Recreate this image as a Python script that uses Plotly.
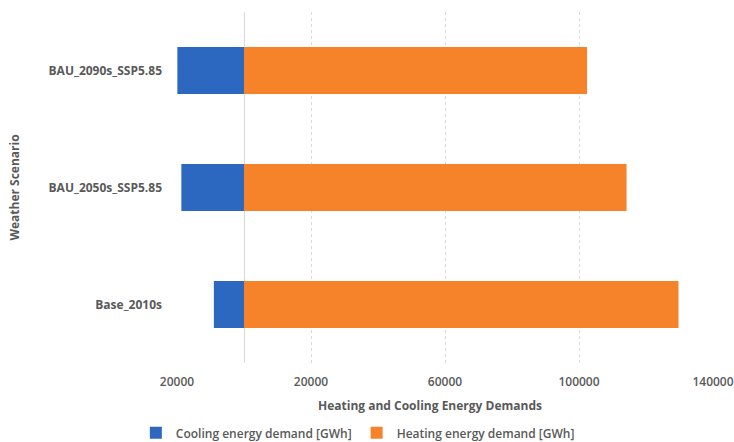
import plotly.graph_objects as go

# data
scenarios = ["Base_2010s", "BAU_2050s_SSP5.85", "BAU_2090s_SSP5.85"]
cooling_gwh = [9000, 18700, 19900]
heating_gwh = [129700, 114200, 102400]

tick_vals = [-20000, 20000, 60000, 100000, 140000]
tick_text = ["20000", "20000", "60000", "100000", "140000"]

BLUE = "#2C68C0"
ORANGE = "#F6832A"
GREY = "#595959"
FONT = "Open Sans"

fig = go.Figure()

# cooling drawn to the left of zero
fig.add_trace(go.Bar(
    y=scenarios, x=[-v for v in cooling_gwh], orientation="h",
    name="Cooling energy demand [GWh]", marker=dict(color=BLUE, line_width=0),
))
fig.add_trace(go.Bar(
    y=scenarios, x=heating_gwh, orientation="h",
    name="Heating energy demand [GWh]", marker=dict(color=ORANGE, line_width=0),
))

fig.update_layout(
    width=734, height=442,
    margin=dict(l=176, r=20, t=12, b=79, autoexpand=False),
    barmode="relative", bargap=0.6,
    plot_bgcolor="white", paper_bgcolor="white",
    font=dict(family=FONT, color=GREY, size=12),
    legend=dict(orientation="h", x=0.338, xanchor="center", y=-0.199, yanchor="middle",
                font=dict(size=12, color=GREY, weight=600), traceorder="normal",
                itemwidth=30),
    annotations=[dict(
        text="<b>Heating and Cooling Energy Demands</b>", xref="paper", yref="paper",
        x=0.472, y=-0.1225, xanchor="center", yanchor="middle", showarrow=False,
        font=dict(size=12, color=GREY),
    )],
)

# small padding on the range so the edge gridlines are still drawn
fig.update_xaxes(
    range=[-20300, 140300], tickvals=tick_vals, ticktext=tick_text,
    showgrid=True, gridcolor="#D9D9D9", griddash="dot", gridwidth=1,
    zeroline=True, zerolinecolor="#D9D9D9", zerolinewidth=1,
    showline=False, ticks="", ticklabelstandoff=10, automargin=False,
    tickfont=dict(size=12, color=GREY, weight=600),
)

fig.update_yaxes(
    showgrid=False, showline=False, ticks="", ticklabelstandoff=13, automargin=False,
    tickfont=dict(size=12, color=GREY, weight="bold"),
    title=dict(text="Weather Scenario", standoff=26,
               font=dict(size=12, color=GREY, weight="bold")),
)

# drop the default page margin so the figure fills the window exactly
fig.write_html("out.html", config={"displayModeBar": False},
               post_script="document.body.style.margin='0';")
